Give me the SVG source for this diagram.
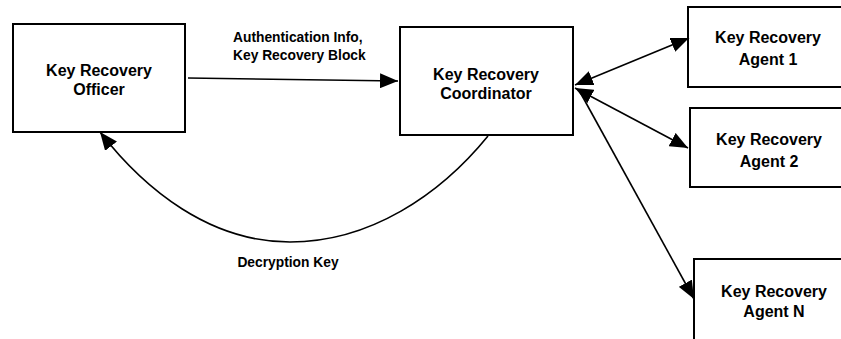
<svg xmlns="http://www.w3.org/2000/svg" width="841" height="339" viewBox="0 0 841 339">
<defs>
<style>
.box{fill:#fff;stroke:#000;stroke-width:2}
.lbl{font-family:"Liberation Sans",Arial,sans-serif;font-weight:bold;font-size:16px;fill:#000;text-anchor:middle}
.elbl{font-family:"Liberation Sans",Arial,sans-serif;font-weight:bold;font-size:13.8px;fill:#000}
.edge{fill:none;stroke:#000;stroke-width:1.6}
</style>
<marker id="ah" markerUnits="userSpaceOnUse" markerWidth="18" markerHeight="15" refX="18" refY="7.5" orient="auto-start-reverse">
<path d="M0,0 L18,7.5 L0,15 z" fill="#000"/>
</marker>
</defs>
<rect width="841" height="339" fill="#fff"/>
<g id="officer">
<rect class="box" x="13" y="24" width="172" height="108"/>
<text class="lbl" x="99" y="76">Key Recovery</text>
<text class="lbl" x="99" y="95">Officer</text>
</g>
<g id="coordinator">
<rect class="box" x="400" y="27" width="173" height="108"/>
<text class="lbl" x="486" y="80">Key Recovery</text>
<text class="lbl" x="486" y="99">Coordinator</text>
</g>
<g id="agent1">
<rect class="box" x="688" y="7" width="160" height="80"/>
<text class="lbl" x="768" y="43">Key Recovery</text>
<text class="lbl" x="768" y="65">Agent 1</text>
</g>
<g id="agent2">
<rect class="box" x="690" y="108" width="158" height="79"/>
<text class="lbl" x="769" y="145">Key Recovery</text>
<text class="lbl" x="769" y="167">Agent 2</text>
</g>
<g id="agentN">
<rect class="box" x="694" y="259" width="160" height="100"/>
<text class="lbl" x="774" y="297">Key Recovery</text>
<text class="lbl" x="774" y="317">Agent N</text>
</g>
<g id="connectors">
<path class="edge" d="M188,78 L398,81" marker-end="url(#ah)"/>
<path class="edge" d="M575,85 L689,38" marker-start="url(#ah)" marker-end="url(#ah)"/>
<path class="edge" d="M575,88 L688,148" marker-start="url(#ah)" marker-end="url(#ah)"/>
<path class="edge" d="M580,92 L694,299" marker-end="url(#ah)"/>
<path class="edge" d="M488,136 C440,195 370,242 290,242 C210,242 145,190 100,132" marker-end="url(#ah)"/>
<text class="elbl" x="233" y="42">Authentication Info,</text>
<text class="elbl" x="233" y="60">Key Recovery Block</text>
<text class="elbl" x="288" y="267" text-anchor="middle">Decryption Key</text>
</g>
</svg>
